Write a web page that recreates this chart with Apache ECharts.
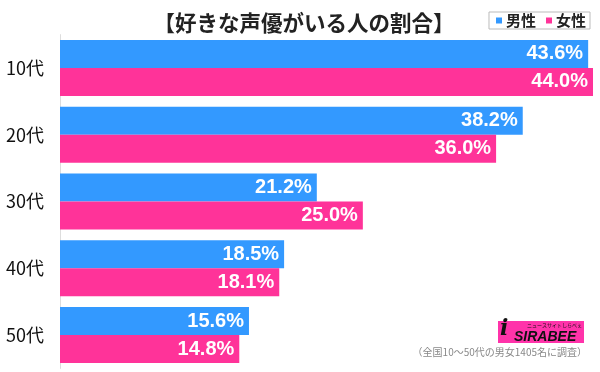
<!DOCTYPE html>
<html>
<head>
<meta charset="utf-8">
<script src="https://cdn.jsdelivr.net/npm/echarts@6/dist/echarts.min.js"></script>
<style>
html,body{margin:0;padding:0;background:#fff;}
#c{width:600px;height:372px;}
</style>
</head>
<body>
<div id="c"></div>
<script>
const categories = ['10代', '20代', '30代', '40代', '50代'];
const male = [43.6, 38.2, 21.2, 18.5, 15.6];
const female = [44.0, 36.0, 25.0, 18.1, 14.8];
const seriesNames = ['男性', '女性'];
const titleText = '【好きな声優がいる人の割合】';
const footText = '（全国10～50代の男女1405名に調査）';

const chart = echarts.init(document.getElementById('c'));
const FONT = "'Noto Sans CJK JP', 'Liberation Sans', sans-serif";
const labelStyle = {
  show: true,
  position: 'insideRight',
  distance: 5,
  color: '#fff',
  fontFamily: "'Liberation Sans', Arial, sans-serif",
  fontWeight: 'bold',
  fontSize: 20,
  formatter: p => p.value.toFixed(1) + '%'
};
chart.setOption({
  animation: false,
  backgroundColor: '#fff',
  title: {
    text: titleText,
    left: 299,
    top: 7,
    textAlign: 'center',
    textStyle: { fontFamily: FONT, fontSize: 21.5, fontWeight: 'bold', color: '#222' }
  },
  legend: {
    data: seriesNames,
    right: 10,
    top: 12,
    icon: 'rect',
    itemWidth: 6,
    itemHeight: 6,
    itemGap: 10,
    padding: [1, 4, 1, 7],
    borderColor: '#bbb',
    borderWidth: 1,
    textStyle: { fontFamily: FONT, fontSize: 15, fontWeight: 'bold', color: '#222', padding: [0, 0, 0, -1] }
  },
  grid: { left: 60, right: 7, top: 34.6, bottom: 3.6, containLabel: false },
  xAxis: {
    type: 'value', min: 0, max: 44,
    show: false
  },
  yAxis: {
    type: 'category',
    data: categories,
    inverse: true,
    axisLine: { show: true, lineStyle: { color: '#ddd', width: 1 } },
    axisTick: { show: false },
    axisLabel: { fontFamily: FONT, fontSize: 18, color: '#111', margin: 16 }
  },
  series: [
    {
      name: seriesNames[0], type: 'bar', data: male,
      barWidth: 28, barGap: '0%',
      itemStyle: { color: '#3399ff' },
      label: labelStyle
    },
    {
      name: seriesNames[1], type: 'bar', data: female,
      barWidth: 28,
      itemStyle: { color: '#ff3399' },
      label: labelStyle
    }
  ],
  graphic: [
    { type: 'rect', shape: { x: 498, y: 321, width: 86, height: 22 }, style: { fill: '#ff33aa' }, z: 10 },
    { type: 'text', left: 500, top: 318, style: { text: 'i', fontFamily: "'DejaVu Serif', serif", fontSize: 22, fontWeight: 'bold', fontStyle: 'italic', fill: '#111' }, z: 11 },
    { type: 'text', left: 514, top: 330, style: { text: 'SIRABEE', fontFamily: "'Liberation Sans', Arial, sans-serif", fontSize: 14, fontWeight: 'bold', fontStyle: 'italic', fill: '#111' }, z: 11 },
    { type: 'text', left: 527, top: 323, style: { text: 'ニュースサイトしらべぇ', fontFamily: FONT, fontSize: 5, fill: '#111' }, z: 11 },
    { type: 'text', right: 13, top: 347, style: { text: footText, fontFamily: FONT, fontSize: 10, fill: '#888' }, z: 11 }
  ]
});
</script>
</body>
</html>
